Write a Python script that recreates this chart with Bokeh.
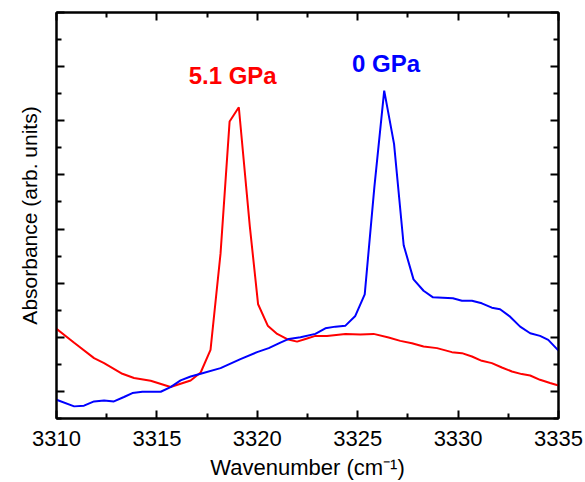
from bokeh.plotting import figure
from bokeh.models import Range1d, LinearAxis, FixedTicker, ColumnDataSource, CustomJSTickFormatter
from bokeh.core.properties import value
from bokeh.embed import file_html
from bokeh.resources import INLINE

# 5.1 GPa spectrum (red)
x_51 = [3310.0, 3310.88, 3311.87, 3312.37, 3313.28, 3313.86, 3314.69, 3315.68, 3316.68, 3317.18,
        3317.67, 3318.17, 3318.62, 3319.08, 3319.63, 3320.04, 3320.52, 3320.99, 3321.49, 3321.98,
        3322.4, 3322.89, 3323.47, 3324.39, 3325.13, 3325.79, 3326.54, 3327.12, 3327.70, 3328.28,
        3328.95, 3329.69, 3330.19, 3330.69, 3331.18, 3331.68, 3332.18, 3332.68, 3333.17, 3333.59,
        3334.08, 3334.58, 3335.0]
y_51 = [1.155, 0.90, 0.615, 0.523, 0.326, 0.247, 0.197, 0.081, 0.203, 0.35,
        0.768, 2.55, 4.985, 5.25, 3.04, 1.61, 1.215, 1.063, 0.965, 0.92,
        0.97, 1.026, 1.026, 1.063, 1.05, 1.063, 0.995, 0.934, 0.891, 0.829,
        0.80, 0.726, 0.707, 0.645, 0.565, 0.523, 0.442, 0.368, 0.32, 0.295,
        0.215, 0.155, 0.11]

# 0 GPa spectrum (blue)
x_0 = [3310.0, 3310.88, 3311.37, 3311.87, 3312.37, 3312.86, 3313.36, 3313.78, 3314.28, 3315.19,
       3315.68, 3316.18, 3316.68, 3317.18, 3318.17, 3319.16, 3319.99, 3320.57, 3321.15, 3321.57,
       3322.15, 3322.89, 3323.39, 3323.89, 3324.39, 3324.88, 3325.35, 3325.83, 3326.32, 3326.81,
       3327.29, 3327.78, 3328.28, 3328.75, 3329.24, 3329.74, 3330.19, 3330.69, 3331.18, 3331.68,
       3332.09, 3332.59, 3333.09, 3333.59, 3334.08, 3334.49, 3335.0]
y_0 = [-0.153, -0.276, -0.263, -0.184, -0.166, -0.184, -0.103, -0.03, -0.006, -0.006,
       0.081, 0.203, 0.276, 0.326, 0.43, 0.597, 0.726, 0.80, 0.903, 0.97,
       1.0, 1.063, 1.167, 1.197, 1.215, 1.394, 1.794, 3.775, 5.556, 4.574,
       2.70, 2.07, 1.86, 1.738, 1.731, 1.72, 1.676, 1.676, 1.628, 1.547,
       1.517, 1.381, 1.197, 1.075, 1.026, 0.952, 0.755]

x_ticks = [3310, 3315, 3320, 3325, 3330, 3335]
x_minor = [3312.5, 3317.5, 3322.5, 3327.5, 3332.5]
y_ticks = [0, 1, 2, 3, 4, 5, 6, 7]
y_minor = [-0.5, 0.5, 1.5, 2.5, 3.5, 4.5, 5.5, 6.5]

labels = ["5.1 GPa", "0 GPa"]
label_x = [3316.58, 3324.72]
label_y = [5.845, 6.05]
label_colors = ["#ff0000", "#0000ff"]

x_title = "Wavenumber (cm\u207b\u00b9)"
y_title = "Absorbance (arb. units)"

FONT = "Liberation Sans"

p = figure(width=583, height=482, output_backend="svg", toolbar_location=None,
           x_range=Range1d(3310, 3335), y_range=Range1d(-0.5, 7.0),
           min_border_left=56, min_border_right=25, min_border_top=12, min_border_bottom=64,
           background_fill_color="white", border_fill_color="white")
p.xgrid.visible = False
p.ygrid.visible = False
p.outline_line_color = "black"
p.outline_line_width = 2


def style(ax, show_labels):
    ax.axis_line_color = "black"
    ax.axis_line_width = 2
    ax.major_tick_line_color = "black"
    ax.minor_tick_line_color = "black"
    ax.major_tick_line_width = 2
    ax.minor_tick_line_width = 2
    ax.major_tick_in = 8
    ax.major_tick_out = 0
    ax.minor_tick_in = 5
    ax.minor_tick_out = 0
    if not show_labels:
        ax.formatter = CustomJSTickFormatter(code="return '';")
        ax.major_label_standoff = 0


xa = p.xaxis[0]
xa.ticker = FixedTicker(ticks=x_ticks, minor_ticks=x_minor)
style(xa, True)
xa.major_label_text_font = FONT
xa.major_label_text_font_size = "22px"
xa.major_label_text_color = "black"
xa.major_label_text_line_height = 1.0
xa.major_label_standoff = 12
xa.axis_label = x_title
xa.axis_label_text_font = FONT
xa.axis_label_text_font_size = "22px"
xa.axis_label_text_font_style = "normal"
xa.axis_label_text_color = "black"
xa.axis_label_text_line_height = 1.0
xa.axis_label_standoff = 6

ya = p.yaxis[0]
ya.ticker = FixedTicker(ticks=y_ticks, minor_ticks=y_minor)
style(ya, False)
ya.axis_label = y_title
ya.axis_label_text_font = FONT
ya.axis_label_text_font_size = "21px"
ya.axis_label_text_font_style = "normal"
ya.axis_label_text_color = "black"
ya.axis_label_standoff = 16

top = LinearAxis(ticker=FixedTicker(ticks=x_ticks, minor_ticks=x_minor))
style(top, False)
p.add_layout(top, "above")
right = LinearAxis(ticker=FixedTicker(ticks=y_ticks, minor_ticks=y_minor))
style(right, False)
p.add_layout(right, "right")

p.line(x_51, y_51, line_color="#ff0000", line_width=2)
p.line(x_0, y_0, line_color="#0000ff", line_width=2)

src = ColumnDataSource(dict(x=label_x, y=label_y, t=labels, c=label_colors))
p.text(x="x", y="y", text="t", text_color="c", source=src,
       text_font=value(FONT), text_font_size="24px", text_font_style="bold",
       text_align="left", text_baseline="middle")

open("out.html", "w").write(file_html(p, INLINE))
